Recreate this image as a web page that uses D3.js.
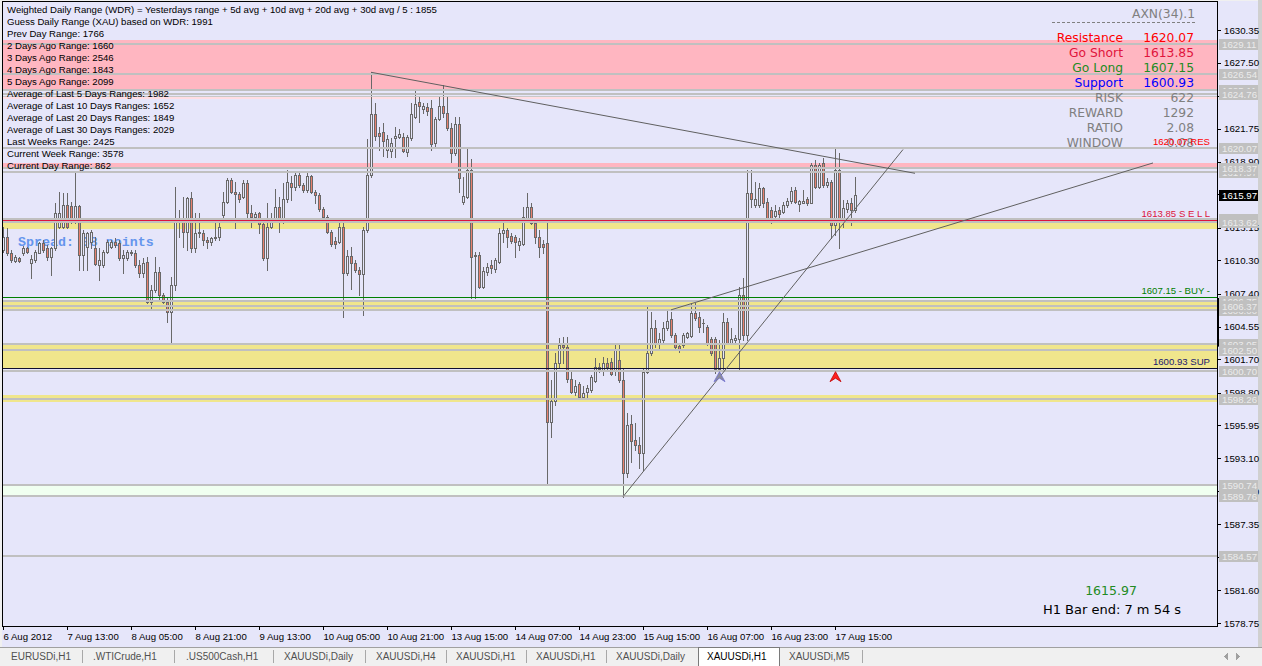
<!DOCTYPE html>
<html><head><meta charset="utf-8">
<script src="https://cdn.jsdelivr.net/npm/d3@7"></script>
<style>
html,body{margin:0;padding:0;background:#F0F0F0;overflow:hidden}
svg{display:block}
</style></head><body>
<svg id="chart" width="1262" height="666"></svg>
<script>
// ---------------- DATA ----------------
const timeLabels = ["6 Aug 2012","7 Aug 13:00","8 Aug 05:00","8 Aug 21:00","9 Aug 13:00","10 Aug 05:00","10 Aug 21:00","13 Aug 15:00","14 Aug 07:00","14 Aug 23:00","15 Aug 15:00","16 Aug 07:00","16 Aug 23:00","17 Aug 15:00"];
const timeIdx = [0,16,32,48,64,80,96,112,128,144,160,176,192,208];
const priceTicks = [1630.35,1627.50,1624.60,1621.75,1618.90,1616.05,1613.15,1610.30,1607.40,1604.55,1601.70,1598.80,1595.95,1593.10,1590.20,1587.35,1584.50,1581.60,1578.75];

const openP = [1611.20,1612.36,1610.92,1610.27,1610.48,1610.92,1611.35,1610.05,1610.33,1610.97,
1611.79,1611.35,1610.57,1611.35,1613.23,1613.23,1615.12,1615.03,1613.67,1615.03,
1610.77,1611.49,1611.93,1611.35,1609.90,1609.90,1611.06,1611.49,1611.93,1611.79,
1610.48,1610.48,1611.06,1610.92,1609.90,1609.18,1610.19,1606.71,1607.72,1609.32,
1607.29,1606.71,1605.84,1608.16,1613.82,1613.82,1612.80,1615.70,1611.35,1612.66,
1612.66,1612.08,1611.93,1612.22,1612.36,1614.25,1615.41,1617.30,1616.28,1616.08,
1615.84,1617.01,1614.40,1614.10,1614.40,1613.47,1610.48,1613.18,1613.82,1614.92,
1613.67,1615.62,1617.06,1616.66,1617.73,1616.86,1616.43,1617.64,1616.28,1615.99,
1614.75,1614.10,1612.80,1612.02,1611.93,1613.18,1609.18,1610.68,1610.05,1609.46,
1609.12,1612.95,1617.73,1623.01,1621.36,1621.50,1619.91,1619.85,1620.98,1621.06,
1621.01,1619.76,1620.93,1622.80,1624.06,1623.50,1623.62,1623.59,1620.49,1622.58,
1623.74,1623.10,1621.80,1619.67,1622.17,1615.41,1615.84,1618.17,1610.68,1610.77,
1608.01,1609.32,1609.90,1609.52,1610.19,1612.66,1612.95,1612.42,1612.31,1611.64,
1611.70,1613.96,1614.98,1613.53,1612.31,1611.73,1611.79,1596.26,1598.09,1601.35,
1602.94,1602.79,1599.95,1598.87,1599.54,1598.44,1598.87,1599.02,1599.83,1600.83,
1600.76,1601.40,1601.48,1600.76,1601.63,1599.89,1591.83,1596.06,1594.67,1594.24,
1593.57,1600.61,1602.22,1604.39,1603.14,1603.37,1604.39,1605.17,1603.81,1602.85,
1602.94,1603.66,1603.72,1605.70,1605.40,1604.88,1604.48,1603.43,1603.43,1600.82,
1601.78,1604.97,1603.14,1603.37,1603.43,1607.29,1603.81,1616.14,1615.12,1615.12,
1616.57,1615.41,1614.69,1614.16,1614.69,1614.54,1615.12,1615.50,1616.43,1615.21,
1615.32,1615.62,1615.32,1618.60,1616.71,1618.75,1616.86,1617.15,1613.38,1618.17,
1613.96,1614.75,1615.32,1614.69];
const highP = [1613.23,1613.12,1611.20,1610.77,1610.62,1611.55,1611.49,1610.77,1611.20,1611.93,
1612.08,1611.64,1611.49,1615.27,1616.28,1616.14,1616.14,1615.41,1617.88,1615.12,
1612.95,1612.80,1612.95,1612.36,1611.38,1611.20,1612.08,1612.08,1612.22,1612.08,
1611.20,1611.20,1611.20,1611.20,1610.33,1610.48,1610.62,1608.16,1610.62,1609.75,
1607.43,1607.00,1608.88,1616.71,1614.69,1615.84,1615.84,1616.28,1614.45,1614.40,
1612.95,1612.36,1612.36,1613.96,1613.53,1616.28,1617.44,1617.44,1617.15,1616.28,
1617.30,1617.30,1615.12,1614.55,1614.55,1613.96,1615.27,1614.40,1616.49,1615.84,
1617.01,1618.17,1617.64,1617.88,1617.88,1617.01,1617.88,1617.73,1616.43,1616.14,
1614.92,1614.25,1612.95,1612.36,1613.96,1613.82,1611.20,1611.49,1610.33,1609.75,
1613.23,1620.86,1626.67,1623.97,1621.94,1622.23,1621.21,1620.93,1621.94,1621.71,
1621.36,1621.21,1623.97,1625.04,1624.54,1623.97,1623.97,1624.26,1622.80,1624.54,
1625.56,1624.54,1622.23,1622.80,1622.80,1617.58,1620.14,1619.10,1611.06,1611.06,
1609.75,1610.05,1610.33,1610.48,1613.09,1613.53,1613.09,1612.66,1612.51,1612.22,
1614.98,1616.14,1615.27,1613.82,1612.95,1612.08,1613.96,1599.89,1602.22,1603.52,
1603.66,1603.66,1600.76,1599.89,1599.74,1599.37,1599.46,1600.33,1601.78,1601.35,
1601.92,1601.78,1601.78,1603.09,1603.09,1600.91,1597.00,1596.85,1596.12,1594.96,
1600.91,1606.27,1605.84,1605.11,1603.96,1604.97,1605.92,1605.84,1603.96,1603.09,
1603.96,1604.10,1606.57,1606.57,1605.84,1605.17,1604.68,1603.66,1603.66,1603.37,
1605.70,1605.26,1604.39,1603.81,1608.01,1608.74,1618.17,1618.17,1617.15,1617.06,
1616.71,1615.70,1614.98,1615.12,1614.98,1615.41,1615.70,1616.71,1616.71,1615.56,
1616.43,1615.84,1618.75,1619.04,1618.75,1619.18,1617.44,1617.30,1619.97,1619.62,
1615.56,1615.56,1615.70,1617.53];
const lowP = [1611.06,1610.77,1610.19,1610.19,1610.19,1610.77,1610.92,1608.77,1610.19,1610.92,
1611.03,1610.33,1609.03,1611.20,1613.09,1613.09,1613.09,1613.53,1613.53,1609.46,
1609.46,1609.46,1611.35,1609.90,1608.59,1609.75,1610.92,1611.35,1611.49,1610.33,
1609.18,1610.33,1610.77,1609.75,1608.88,1608.88,1606.57,1606.13,1607.55,1606.94,
1606.57,1604.97,1603.14,1607.72,1612.36,1611.49,1611.20,1611.06,1611.06,1612.36,
1611.64,1611.36,1611.64,1612.08,1612.08,1613.96,1615.27,1616.14,1613.09,1615.41,
1615.70,1613.96,1613.23,1613.96,1612.66,1610.33,1609.46,1613.09,1613.67,1612.80,
1613.53,1615.41,1615.56,1616.43,1616.71,1616.28,1616.28,1616.14,1615.27,1614.60,
1613.96,1612.66,1611.55,1611.35,1611.79,1605.40,1609.03,1607.78,1609.32,1607.29,
1605.55,1612.80,1617.58,1620.78,1619.91,1619.38,1619.32,1619.32,1619.32,1620.93,
1619.76,1619.38,1620.78,1622.67,1622.37,1623.10,1622.95,1619.91,1620.05,1622.52,
1622.80,1621.65,1618.89,1619.47,1616.28,1615.20,1615.70,1607.00,1607.00,1607.87,
1607.87,1609.03,1609.18,1609.32,1610.05,1611.93,1611.49,1611.79,1610.62,1611.20,
1611.64,1613.82,1613.45,1611.79,1610.62,1610.92,1590.76,1594.96,1597.72,1601.05,
1601.35,1599.74,1598.74,1598.59,1598.39,1598.30,1598.39,1598.87,1599.74,1600.60,
1600.33,1600.76,1600.33,1600.33,1599.74,1589.74,1591.48,1592.78,1593.80,1592.21,
1592.06,1600.47,1602.07,1602.79,1602.65,1603.09,1604.24,1603.66,1602.65,1602.36,
1602.79,1603.52,1603.66,1605.11,1604.10,1604.10,1602.94,1602.07,1600.47,1600.47,
1600.76,1603.03,1603.03,1603.20,1600.82,1603.37,1603.37,1614.98,1614.98,1614.98,
1614.98,1613.67,1613.53,1613.96,1614.10,1614.40,1614.98,1615.27,1615.27,1614.63,
1615.27,1615.12,1615.27,1616.57,1616.57,1616.71,1616.71,1612.22,1612.51,1611.35,
1613.23,1614.54,1613.38,1614.54];
const closeP = [1612.36,1610.92,1610.33,1610.57,1610.27,1611.35,1611.06,1610.40,1611.06,1611.79,
1611.20,1610.57,1611.35,1614.45,1614.45,1615.12,1613.23,1613.67,1615.03,1610.77,
1612.66,1612.66,1612.80,1609.96,1610.33,1611.06,1611.93,1611.93,1611.64,1610.48,
1610.77,1611.06,1610.92,1609.90,1609.18,1610.05,1606.71,1607.72,1609.32,1607.29,
1606.71,1605.84,1608.16,1613.82,1613.96,1612.80,1615.70,1611.35,1612.66,1612.80,
1612.08,1611.93,1612.22,1612.36,1613.23,1615.41,1617.30,1616.28,1616.08,1615.62,
1617.01,1614.40,1614.10,1614.34,1613.47,1610.48,1613.18,1613.82,1614.92,1613.67,
1615.62,1617.15,1616.66,1617.73,1616.86,1616.43,1617.64,1616.28,1615.99,1614.75,
1614.10,1612.80,1611.73,1611.73,1613.18,1609.18,1610.68,1610.05,1609.46,1609.12,
1612.95,1617.73,1623.01,1621.13,1621.13,1620.72,1620.84,1620.49,1621.13,1621.30,
1619.85,1621.01,1623.01,1623.88,1623.76,1623.74,1623.33,1620.40,1622.58,1623.74,
1623.10,1621.80,1619.67,1622.17,1617.44,1615.90,1618.17,1610.57,1610.77,1608.01,
1609.40,1609.75,1609.61,1610.33,1612.71,1612.95,1612.36,1612.01,1611.93,1611.99,
1614.05,1614.98,1613.53,1612.31,1611.44,1611.49,1596.26,1598.09,1601.35,1602.94,
1602.79,1599.95,1598.87,1599.37,1598.44,1598.74,1599.17,1600.13,1601.00,1601.00,
1601.35,1601.00,1600.41,1602.56,1599.89,1591.83,1595.97,1594.61,1594.24,1593.57,
1600.61,1602.22,1604.39,1603.14,1603.43,1604.39,1605.05,1603.81,1602.79,1602.56,
1603.81,1603.96,1605.70,1605.26,1604.53,1604.88,1603.14,1602.22,1600.82,1601.78,
1604.97,1603.14,1603.43,1603.52,1607.29,1603.81,1616.14,1615.62,1615.62,1616.57,
1615.27,1613.76,1613.76,1614.63,1614.34,1615.12,1615.50,1616.37,1615.41,1615.47,
1615.47,1615.32,1618.60,1616.71,1618.60,1616.86,1617.15,1613.38,1618.17,1613.96,
1614.83,1615.32,1614.69,1615.97];

const currentPrice = 1615.97;
const pinkZones = [[1625.13,1629.48],[1618.37,1618.78]];
const paleZones = [[1624.35,1624.60]];
const yellowZones = [[1613.05,1613.62],[1606.00,1606.75],[1600.93,1603.05],[1597.97,1598.55]];
const mintZones = [[1589.76,1590.74]];
const grayLevels = [1629.11,1626.54,1625.11,1624.76,1620.07,1617.97,1618.37,1613.93,1613.62,1606.75,1606.00,1606.37,1603.05,1602.50,1600.70,1598.26,1590.74,1589.76,1584.57];
const plainLevels = [1624.60];
const sellLevel = 1613.85, buyLevel = 1607.15, supLevel = 1600.93, resLevel = 1620.07;
// trend lines: [startIndex, startPrice, endIndex, endPrice]
const trendLines = [[92,1626.67,228,1617.88],[155,1589.74,225,1619.95],[167,1606.00,287.5,1618.78]];
const redArrows = [[208,1600.62]];
const grayArrows = [[179,1600.62]];

const infoLines = ["Weighted Daily Range (WDR) = Yesterdays range + 5d avg + 10d avg + 20d avg + 30d avg / 5 : 1855",
"Guess Daily Range (XAU) based on WDR: 1991","Prev Day Range: 1766","2 Days Ago Range: 1660","3 Days Ago Range: 2546",
"4 Days Ago Range: 1843","5 Days Ago Range: 2099","Average of Last 5 Days Ranges: 1982","Average of Last 10 Days Ranges: 1652",
"Average of Last 20 Days Ranges: 1849","Average of Last 30 Days Ranges: 2029","Last Weeks Range: 2425","Current Week Range: 3578","Current Day Range: 862"];
const panelTitle = "AXN(34).1";
const panelLabels = ["Resistance","Go Short","Go Long","Support","RISK","REWARD","RATIO","WINDOW"];
const panelValues = ["1620.07","1613.85","1607.15","1600.93","622","1292","2.08","0.08"];
const spreadText = "Spread: 38 points";
const barEndText = "H1 Bar end: 7 m 54 s";
const tabs = ["EURUSDi,H1",".WTICrude,H1",".US500Cash,H1","XAUUSDi,Daily","XAUUSDi,H4","XAUUSDi,H1","XAUUSDi,H1","XAUUSDi,Daily","XAUUSDi,H1","XAUUSDi,M5"];
const activeTab = 8;

// ---------------- DRAW ----------------
const SANS = '"Liberation Sans", Arial, sans-serif';
const DV = '"DejaVu Sans", Verdana, sans-serif';
const svg = d3.select('#chart');
const PL = 2, PR = 1217, PT = 1, PB = 626;
const x = d3.scaleLinear().domain([0, 213]).range([3, 855]);
const y = d3.scaleLinear().domain([1578.75, 1630.35]).range([623, 30]);

svg.append('rect').attr('width',1262).attr('height',666).attr('fill','#F0F0F0');
svg.append('rect').attr('x',2).attr('y',1).attr('width',1256).attr('height',646).attr('fill','#E6E6FA');
svg.append('rect').attr('x',1258).attr('y',0).attr('width',4).attr('height',647).attr('fill','#D0D0D0');

svg.append('defs').append('clipPath').attr('id','pc').append('rect')
  .attr('x',PL+1).attr('y',PT+1).attr('width',PR-PL-1).attr('height',PB-PT-1);
const plot = svg.append('g').attr('clip-path','url(#pc)').attr('shape-rendering','crispEdges');

function band(z, fill){
  plot.append('rect').attr('x',PL).attr('width',PR-PL)
    .attr('y',Math.round(y(z[1]))).attr('height',Math.round(y(z[0]))-Math.round(y(z[1]))).attr('fill',fill);
}
pinkZones.forEach(z=>band(z,'#FFB6C1'));
paleZones.forEach(z=>band(z,'#FFDDE3'));
yellowZones.forEach(z=>band(z,'#F0E68C'));
mintZones.forEach(z=>band(z,'#F0FFF0'));

// spread label (behind candles)
plot.append('text').attr('x',18).attr('y',246).text(spreadText)
  .attr('font-family','"Liberation Mono","Courier New",monospace').attr('font-weight','bold')
  .attr('font-size',13.3).attr('fill','#6495ED');

// candles
const idx = d3.range(openP.length);
const cg = plot.append('g');
cg.selectAll('line.wick').data(idx).join('line').attr('class','wick')
  .attr('x1',i=>Math.round(x(i))+0.5).attr('x2',i=>Math.round(x(i))+0.5)
  .attr('y1',i=>Math.round(y(highP[i]))).attr('y2',i=>Math.round(y(lowP[i]))+1)
  .attr('stroke','#696969').attr('stroke-width',1);
cg.selectAll('rect.body').data(idx.filter(i=>Math.abs(Math.round(y(openP[i]))-Math.round(y(closeP[i])))>=1)).join('rect').attr('class','body')
  .attr('x',i=>Math.round(x(i))-0.5).attr('width',2)
  .attr('y',i=>Math.round(y(Math.max(openP[i],closeP[i])))+0.5)
  .attr('height',i=>Math.round(y(Math.min(openP[i],closeP[i])))-Math.round(y(Math.max(openP[i],closeP[i]))))
  .attr('fill',i=>closeP[i]<openP[i]?'#E8806F':'#E6E6FA')
  .attr('stroke','#696969').attr('stroke-width',1);
cg.selectAll('line.doji').data(idx.filter(i=>Math.abs(Math.round(y(openP[i]))-Math.round(y(closeP[i])))<1)).join('line').attr('class','doji')
  .attr('x1',i=>Math.round(x(i))-1).attr('x2',i=>Math.round(x(i))+2)
  .attr('y1',i=>Math.round(y(openP[i]))+0.5).attr('y2',i=>Math.round(y(openP[i]))+0.5)
  .attr('stroke','#696969');

// horizontal lines
function hline(p, color, w){
  const yy = w===2 ? Math.round(y(p)) : Math.round(y(p))+0.5;
  plot.append('line').attr('x1',PL).attr('x2',PR).attr('y1',yy).attr('y2',yy).attr('stroke',color).attr('stroke-width',w);
}
grayLevels.forEach(p=>hline(p,'#C0C0C0',2));
plainLevels.forEach(p=>hline(p,'#C8C8C8',1));
hline(sellLevel,'#DC143C',1.3);
hline(buyLevel,'#008000',1);
hline(supLevel,'#101030',1);

// trend lines
plot.selectAll('line.trend').data(trendLines).join('line').attr('class','trend')
  .attr('x1',d=>x(d[0])).attr('y1',d=>y(d[1])).attr('x2',d=>x(d[2])).attr('y2',d=>y(d[3]))
  .attr('stroke','#606060').attr('stroke-width',1).attr('shape-rendering','auto');

// arrows
function arrowPath(d){
  const cx = Math.round(x(d[0]))+0.5, t = y(d[1]);
  return `M${cx},${t} L${cx+5.5},${t+10} L${cx},${t+6.5} L${cx-5.5},${t+10} Z`;
}
plot.selectAll('path.ra').data(redArrows).join('path').attr('d',arrowPath)
  .attr('fill','#FF2020').attr('stroke','#C00000').attr('stroke-width',0.8).attr('shape-rendering','auto');
plot.selectAll('path.ga').data(grayArrows).join('path').attr('d',arrowPath)
  .attr('fill','#8C8C9A').attr('stroke','#7070D0').attr('stroke-width',0.8).attr('shape-rendering','auto');

// level labels on chart
function lvlLabel(p, txt, color){
  plot.append('text').attr('x',1210).attr('y',Math.round(y(p))-3).attr('text-anchor','end')
    .attr('font-family',SANS).attr('font-size',9.6).attr('fill',color).text(txt);
}

// top-left info
const info = plot.append('g');
info.selectAll('text').data(infoLines).join('text')
  .attr('x',7).attr('y',(d,i)=>13.3+i*11.95).text(d=>d)
  .attr('font-family',SANS).attr('font-size',9.6).attr('fill','#000');

// right panel
const pan = plot.append('g').attr('font-family',DV).attr('font-size',12.3);
pan.append('text').attr('x',1195).attr('y',17.5).attr('text-anchor','end').attr('fill','#808080').text(panelTitle);
pan.append('line').attr('x1',1052).attr('x2',1195).attr('y1',22.5).attr('y2',22.5).attr('stroke','#808080').attr('stroke-dasharray','3,2');
const panColors = ['#FF0000','#E0143C','#228B22','#0000FF','#808080','#808080','#808080','#808080'];
pan.selectAll('text.pl').data(panelLabels).join('text').attr('class','pl')
  .attr('x',1123).attr('y',(d,i)=>42+i*15).attr('text-anchor','end').attr('fill',(d,i)=>panColors[i]).text(d=>d);
pan.selectAll('text.pv').data(panelValues).join('text').attr('class','pv')
  .attr('x',1194).attr('y',(d,i)=>42+i*15).attr('text-anchor','end').attr('fill',(d,i)=>panColors[i]).text(d=>d);

lvlLabel(resLevel, resLevel.toFixed(2)+' RES', '#FF0000');
lvlLabel(sellLevel, sellLevel.toFixed(2)+' S E L L', '#DC143C');
lvlLabel(buyLevel, buyLevel.toFixed(2)+' - BUY -', '#008000');
lvlLabel(supLevel, supLevel.toFixed(2)+' SUP', '#191970');

// bottom-right info
plot.append('text').attr('x',1111).attr('y',594.5).attr('text-anchor','middle').attr('font-family',DV).attr('font-size',12.5)
  .attr('fill','#228B22').text(currentPrice.toFixed(2));
plot.append('text').attr('x',1112).attr('y',614).attr('text-anchor','middle').attr('font-family',DV).attr('font-size',13)
  .attr('fill','#000').text(barEndText);

// frame
svg.append('rect').attr('x',PL+0.5).attr('y',PT+0.5).attr('width',PR-PL).attr('height',PB-PT)
  .attr('fill','none').attr('stroke','#000').attr('shape-rendering','crispEdges');

// right axis (labels hidden where a level box fully covers them, as in the reference)
const boxLevels = grayLevels.concat([currentPrice]);
const covered = t => boxLevels.some(b => Math.abs(y(b)-y(t)) < 3.5);
const yAxis = d3.axisRight(y).tickValues(priceTicks).tickFormat(t => covered(t) ? '' : d3.format('.2f')(t)).tickSize(4).tickPadding(3);
const gy = svg.append('g').attr('transform',`translate(${PR},0)`).call(yAxis);
gy.select('.domain').remove();
gy.attr('font-family',SANS).attr('font-size',9.7);
gy.selectAll('line').attr('stroke','#000').attr('shape-rendering','crispEdges');
gy.selectAll('text').attr('fill','#000');

// small dark marker on axis
svg.append('rect').attr('x',PR).attr('width',2).attr('y',y(1607.03)).attr('height',y(1602.80)-y(1607.03)).attr('fill','#000');

// level price boxes
const boxes = svg.append('g').attr('shape-rendering','crispEdges');
grayLevels.forEach(p=>{
  const yy = Math.round(y(p));
  boxes.append('rect').attr('x',1219).attr('y',yy-5).attr('width',39).attr('height',11).attr('fill','#C0C0C0');
  boxes.append('text').attr('x',1222).attr('y',yy+3.5).attr('font-family',SANS).attr('font-size',9.7)
    .attr('fill','#EBEBEB').text(p.toFixed(2));
});
{
  const yy = Math.round(y(currentPrice));
  boxes.append('rect').attr('x',1219).attr('y',yy-5).attr('width',39).attr('height',11).attr('fill','#000');
  boxes.append('text').attr('x',1222).attr('y',yy+3.5).attr('font-family',SANS).attr('font-size',9.7)
    .attr('fill','#FFF').text(currentPrice.toFixed(2));
}

// bottom axis
const xAxis = d3.axisBottom(x).tickValues(timeIdx).tickFormat((d,i)=>timeLabels[i]).tickSize(4).tickPadding(3);
const gx = svg.append('g').attr('transform',`translate(0,${PB})`).call(xAxis);
gx.select('.domain').remove();
gx.attr('font-family',SANS).attr('font-size',9.6);
gx.selectAll('line').attr('stroke','#000').attr('shape-rendering','crispEdges');
gx.selectAll('text').attr('fill','#000').attr('text-anchor','start').attr('x',0);

// tab bar (layout positions)
const tabStart = [11,93,186,284,376,456,536,616,707,789];
const tabSep = [82,174,273,365,446,526,606,862];
const tb = svg.append('g').attr('shape-rendering','crispEdges');
tb.append('rect').attr('x',0).attr('y',647).attr('width',1262).attr('height',19).attr('fill','#F0F0F0');
tb.append('line').attr('x1',0).attr('x2',1262).attr('y1',647.5).attr('y2',647.5).attr('stroke','#A0A0A0');
tb.append('rect').attr('x',698.5).attr('y',647.5).attr('width',81).attr('height',19).attr('fill','#FFF').attr('stroke','#7A7A7A');
tabSep.forEach(s=>tb.append('line').attr('x1',s+0.5).attr('x2',s+0.5).attr('y1',650).attr('y2',663).attr('stroke','#A8A8A8'));
tabs.forEach((t,i)=>{
  tb.append('text').attr('x',tabStart[i]).attr('y',660).attr('font-family',SANS).attr('font-size',10)
    .attr('fill',i===activeTab?'#000':'#505050').text(t);
});
// scroll arrows
tb.append('path').attr('d','M1228,653 L1224,656.5 L1228,660 Z').attr('fill','#A0A0A0');
tb.append('path').attr('d','M1236,653 L1240,656.5 L1236,660 Z').attr('fill','#A0A0A0');
</script>
</body></html>
